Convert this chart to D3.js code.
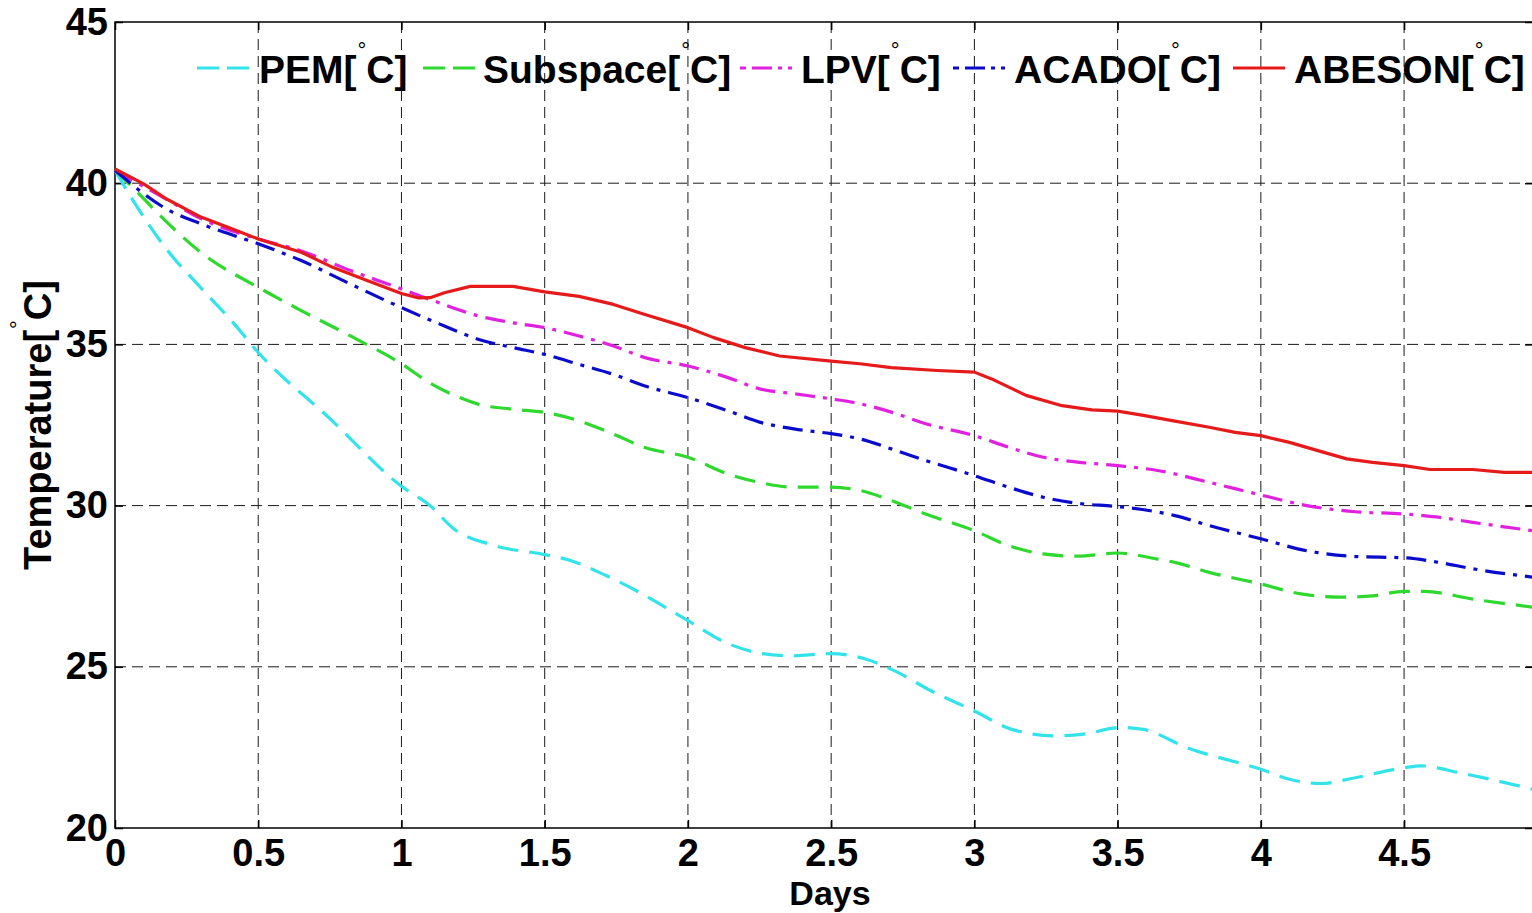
<!DOCTYPE html>
<html>
<head>
<meta charset="utf-8">
<script src="https://cdn.jsdelivr.net/npm/d3@7"></script>
<style>
  html, body { margin: 0; padding: 0; background: #fff; }
  svg { display: block; }
  text { font-family: "Liberation Sans", Arial, sans-serif; font-weight: bold; fill: #000; }
</style>
</head>
<body>
<svg id="chart" width="1532" height="913"></svg>
<script>
// ---------- data ----------
const seriesNames = ["PEM", "Subspace", "LPV", "ACADO", "ABESON"];
const xTicks = [0, 0.5, 1, 1.5, 2, 2.5, 3, 3.5, 4, 4.5];
const yTicks = [20, 25, 30, 35, 40, 45];

const pemDays = [0, 0.064, 0.18, 0.3, 0.41, 0.5, 0.75, 1.0, 1.1, 1.18, 1.33, 1.5, 1.59, 1.69, 1.82, 2.0, 2.13, 2.26, 2.36, 2.5, 2.62, 2.72, 2.85, 3.0, 3.13, 3.28, 3.38, 3.51, 3.59, 3.74, 4.0, 4.1, 4.21, 4.33, 4.5, 4.56, 4.69, 4.95];
const pemTemp = [40.4, 39.45, 37.95, 36.75, 35.7, 34.75, 32.7, 30.6, 30.0, 29.3, 28.75, 28.48, 28.3, 27.93, 27.36, 26.43, 25.76, 25.41, 25.34, 25.41, 25.24, 24.88, 24.25, 23.63, 23.06, 22.86, 22.91, 23.12, 23.06, 22.5, 21.82, 21.51, 21.38, 21.56, 21.87, 21.93, 21.72, 21.2];

const subDays = [0, 0.064, 0.18, 0.3, 0.5, 0.65, 0.82, 1.0, 1.1, 1.19, 1.27, 1.39, 1.5, 1.62, 1.74, 1.85, 2.0, 2.14, 2.25, 2.37, 2.5, 2.6, 2.71, 2.83, 3.0, 3.12, 3.24, 3.36, 3.5, 3.64, 3.7, 3.82, 4.0, 4.14, 4.28, 4.39, 4.5, 4.57, 4.74, 4.95];
const subTemp = [40.4, 39.85, 38.8, 37.85, 36.77, 36.05, 35.27, 34.4, 33.8, 33.4, 33.14, 32.99, 32.89, 32.63, 32.22, 31.8, 31.5, 30.98, 30.72, 30.57, 30.57, 30.47, 30.16, 29.74, 29.22, 28.76, 28.5, 28.43, 28.53, 28.34, 28.24, 27.93, 27.57, 27.26, 27.16, 27.2, 27.34, 27.34, 27.1, 26.85];

const lpvDays = [0, 0.18, 0.3, 0.5, 0.65, 0.82, 1.0, 1.11, 1.27, 1.39, 1.5, 1.62, 1.74, 1.85, 2.0, 2.14, 2.25, 2.37, 2.5, 2.6, 2.71, 2.83, 3.0, 3.12, 3.24, 3.36, 3.5, 3.64, 3.82, 4.0, 4.16, 4.33, 4.5, 4.62, 4.74, 4.95];
const lpvTemp = [40.4, 39.5, 38.9, 38.27, 37.9, 37.3, 36.72, 36.36, 35.88, 35.67, 35.52, 35.26, 34.95, 34.59, 34.33, 33.97, 33.62, 33.47, 33.31, 33.16, 32.9, 32.54, 32.17, 31.81, 31.5, 31.35, 31.24, 31.09, 30.72, 30.33, 30.0, 29.81, 29.74, 29.64, 29.48, 29.22];

const acadoDays = [0, 0.18, 0.3, 0.5, 0.65, 0.82, 1.0, 1.15, 1.27, 1.39, 1.5, 1.62, 1.74, 1.85, 2.0, 2.14, 2.25, 2.37, 2.5, 2.6, 2.71, 2.83, 3.0, 3.12, 3.24, 3.36, 3.5, 3.64, 3.7, 3.82, 4.0, 4.16, 4.33, 4.5, 4.62, 4.74, 4.95];
const acadoTemp = [40.4, 39.2, 38.74, 38.12, 37.6, 36.88, 36.14, 35.57, 35.15, 34.9, 34.69, 34.38, 34.07, 33.71, 33.35, 32.94, 32.59, 32.38, 32.23, 32.07, 31.76, 31.4, 30.93, 30.57, 30.26, 30.07, 29.97, 29.8, 29.69, 29.38, 28.97, 28.6, 28.42, 28.38, 28.24, 28.04, 27.78];

const abesonDays = [0, 0.1, 0.18, 0.3, 0.41, 0.5, 0.65, 0.76, 0.88, 1.0, 1.06, 1.1, 1.15, 1.24, 1.39, 1.5, 1.62, 1.74, 1.85, 2.0, 2.09, 2.2, 2.32, 2.5, 2.6, 2.71, 2.87, 3.0, 3.06, 3.18, 3.3, 3.41, 3.5, 3.59, 3.7, 3.82, 3.91, 4.0, 4.1, 4.22, 4.3, 4.39, 4.5, 4.59, 4.74, 4.85, 4.95];
const abesonTemp = [40.44, 39.98, 39.51, 38.95, 38.58, 38.27, 37.86, 37.39, 36.98, 36.58, 36.44, 36.45, 36.6, 36.8, 36.8, 36.63, 36.49, 36.24, 35.93, 35.52, 35.21, 34.9, 34.64, 34.48, 34.4, 34.28, 34.19, 34.14, 33.93, 33.42, 33.11, 32.97, 32.93, 32.8, 32.62, 32.43, 32.27, 32.17, 31.96, 31.65, 31.45, 31.34, 31.24, 31.12, 31.12, 31.03, 31.03];

// ---------- styling / layout ----------
const styles = [
  { color: "#33e3ea", dash: "21,11", legendDash: "22,8", curve: d3.curveMonotoneX },
  { color: "#2fd82f", dash: "21,11", legendDash: "22,8", curve: d3.curveMonotoneX },
  { color: "#e022e0", dash: "20,8,4,8", legendDash: "6,6,20,6,4", curve: d3.curveMonotoneX },
  { color: "#0b0bcc", dash: "20,8,4,8", legendDash: "6,6,20,6,4", curve: d3.curveMonotoneX },
  { color: "#e51a1a", dash: null, legendDash: null, curve: d3.curveLinear }
];
const seriesData = [
  [pemDays, pemTemp], [subDays, subTemp], [lpvDays, lpvTemp], [acadoDays, acadoTemp], [abesonDays, abesonTemp]
];

const W = 1532, H = 913;
const L = 115, R = 1533, T = 22, B = 828;
const svg = d3.select("#chart");
svg.append("rect").attr("width", W).attr("height", H).attr("fill", "#fff");

const x = d3.scaleLinear().domain([0, 4.95]).range([L, R]);
const y = d3.scaleLinear().domain([20, 45]).range([B, T]);

// grid
const grid = svg.append("g").attr("stroke", "#1a1a1a").attr("stroke-width", 1).attr("stroke-dasharray", "11,6");
grid.selectAll("line.v").data(xTicks.filter(d => d > 0)).join("line")
  .attr("x1", d => x(d)).attr("x2", d => x(d)).attr("y1", T).attr("y2", B);
grid.selectAll("line.h").data(yTicks.filter(d => d > 20 && d < 45)).join("line")
  .attr("y1", d => y(d)).attr("y2", d => y(d)).attr("x1", L).attr("x2", R);

// axes
const fs = 38;
const axB = svg.append("g").attr("transform", `translate(0,${B})`)
  .call(d3.axisBottom(x).tickValues(xTicks).tickFormat(d3.format("")).tickSizeInner(-8).tickSizeOuter(0).tickPadding(11));
const axT = svg.append("g").attr("transform", `translate(0,${T})`)
  .call(d3.axisTop(x).tickValues(xTicks).tickFormat("").tickSizeInner(-8).tickSizeOuter(0));
const axL = svg.append("g").attr("transform", `translate(${L},0)`)
  .call(d3.axisLeft(y).tickValues(yTicks).tickSizeInner(-8).tickSizeOuter(0).tickPadding(7));
const axR = svg.append("g").attr("transform", `translate(${R},0)`)
  .call(d3.axisRight(y).tickValues(yTicks).tickFormat("").tickSizeInner(-8).tickSizeOuter(0));
[axB, axT, axL, axR].forEach(a => {
  a.select(".domain").remove();
  a.selectAll(".tick line").attr("stroke", "#000").attr("stroke-width", 1.5);
  a.selectAll("text").attr("font-size", fs).attr("font-family", "Liberation Sans, Arial, sans-serif").attr("font-weight", "bold").attr("fill", "#000");
});

// frame
svg.append("rect").attr("x", L).attr("y", T).attr("width", R - L).attr("height", B - T)
  .attr("fill", "none").attr("stroke", "#000").attr("stroke-width", 1.5);

// lines
const plot = svg.append("g");
seriesData.forEach(([days, temps], i) => {
  const pts = days.map((d, j) => [d, temps[j]]);
  const line = d3.line().x(d => x(d[0])).y(d => y(d[1])).curve(styles[i].curve);
  plot.append("path").datum(pts).attr("d", line)
    .attr("fill", "none").attr("stroke", styles[i].color).attr("stroke-width", 3.2)
    .attr("stroke-linejoin", "round")
    .attr("stroke-dasharray", styles[i].dash);
});

// legend
const legendSampleX = [197, 423, 740, 953, 1233];
const legendTextX = [259, 483, 801, 1014, 1294];
const legendLineY = 68, legendTextY = 83, legendFs = 39;
const lg = svg.append("g");
seriesNames.forEach((name, i) => {
  lg.append("line").attr("x1", legendSampleX[i]).attr("x2", legendSampleX[i] + 52)
    .attr("y1", legendLineY).attr("y2", legendLineY)
    .attr("stroke", styles[i].color).attr("stroke-width", 3.2)
    .attr("stroke-dasharray", styles[i].legendDash);
  const t = lg.append("text").attr("x", legendTextX[i]).attr("y", legendTextY).attr("font-size", legendFs);
  t.append("tspan").text(name + "[");
  t.append("tspan").attr("font-size", 22).attr("font-weight", "normal").attr("dy", -25).attr("dx", 1).text("°");
  t.append("tspan").attr("dy", 25).attr("dx", 0).text("C]");
});

// axis titles
svg.append("text").attr("x", (L + R) / 2 + 6).attr("y", 905).attr("text-anchor", "middle")
  .attr("font-size", 34).text("Days");
const yl = svg.append("text").attr("transform", "translate(51,425) rotate(-90)")
  .attr("text-anchor", "middle").attr("font-size", fs);
yl.append("tspan").text("Temperature[");
yl.append("tspan").attr("font-size", 22).attr("font-weight", "normal").attr("dy", -25).attr("dx", 1).text("°");
yl.append("tspan").attr("dy", 25).attr("dx", 0).text("C]");
</script>
</body>
</html>
